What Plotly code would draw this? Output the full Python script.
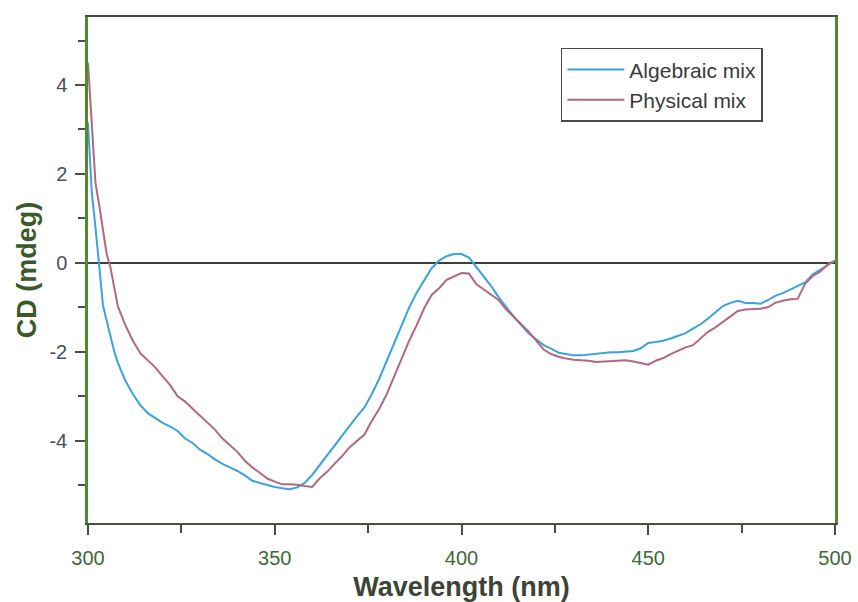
import plotly.graph_objects as go

# Wavelength grid (nm)
wavelength = [300, 301, 302, 303, 304, 305, 306, 307, 308] + list(range(310, 501, 2))

algebraic_mix = [
    3.15, 1.6, 0.8, 0.0, -0.95, -1.3, -1.65, -1.98, -2.25,
    -2.65, -2.95, -3.2, -3.38, -3.5, -3.6, -3.68, -3.78, -3.95, -4.05,
    -4.2, -4.3, -4.42, -4.52, -4.6, -4.68, -4.78, -4.9, -4.95, -5.0,
    -5.04, -5.07, -5.09, -5.05, -4.95, -4.77, -4.55, -4.33, -4.1, -3.88,
    -3.65, -3.45, -3.25, -2.95, -2.6, -2.2, -1.8, -1.4, -1.0, -0.67,
    -0.4, -0.12, 0.05, 0.15, 0.2, 0.2, 0.12, -0.1, -0.3, -0.53,
    -0.78, -1.0, -1.21, -1.4, -1.59, -1.72, -1.85, -1.93, -2.02, -2.05,
    -2.08, -2.08, -2.06, -2.05, -2.03, -2.01, -2.01, -1.99, -1.98, -1.92,
    -1.8, -1.78, -1.75, -1.7, -1.64, -1.58, -1.48, -1.38, -1.25, -1.1,
    -0.97, -0.9, -0.85, -0.9, -0.9, -0.92, -0.84, -0.74, -0.68, -0.6,
    -0.52, -0.44, -0.26, -0.15, -0.06, 0.05,
]

physical_mix = [
    4.5, 3.2, 1.8, 1.3, 0.7, 0.2, -0.1, -0.55, -0.98,
    -1.4, -1.75, -2.03, -2.2, -2.35, -2.55, -2.75, -3.0, -3.12, -3.28,
    -3.43, -3.58, -3.75, -3.95, -4.1, -4.25, -4.45, -4.6, -4.72, -4.85,
    -4.92, -4.98, -4.98, -4.99, -5.02, -5.04, -4.85, -4.7, -4.52, -4.35,
    -4.15, -4.0, -3.86, -3.55, -3.28, -2.95, -2.55, -2.15, -1.75, -1.4,
    -1.02, -0.72, -0.57, -0.38, -0.3, -0.23, -0.24, -0.48, -0.6, -0.72,
    -0.84, -1.05, -1.21, -1.38, -1.55, -1.75, -1.95, -2.05, -2.11, -2.15,
    -2.18, -2.19, -2.2, -2.23, -2.22, -2.21, -2.2, -2.19, -2.22, -2.25,
    -2.29, -2.2, -2.14, -2.05, -1.98, -1.9, -1.85, -1.7, -1.55, -1.45,
    -1.33, -1.22, -1.08, -1.05, -1.04, -1.03, -1.0, -0.9, -0.85, -0.82,
    -0.81, -0.47, -0.3, -0.2, -0.04, 0.05,
]

x_ticks = [300, 350, 400, 450, 500]
y_ticks = [-4, -2, 0, 2, 4]

FONT = "Liberation Sans, Arial, sans-serif"

fig = go.Figure()
fig.add_trace(go.Scatter(x=wavelength, y=algebraic_mix, mode="lines",
                         name="Algebraic mix",
                         line=dict(color="#3aa3dd", width=2)))
fig.add_trace(go.Scatter(x=wavelength, y=physical_mix, mode="lines",
                         name="Physical mix",
                         line=dict(color="#b3687f", width=2)))

fig.update_layout(
    width=858, height=602,
    margin=dict(l=88, r=23, t=17, b=79),
    paper_bgcolor="white", plot_bgcolor="white",
    font=dict(family=FONT, color="#3a3a3a"),
    showlegend=True,
    legend=dict(x=0.633, y=0.939, xanchor="left", yanchor="top",
                bgcolor="white", bordercolor="#4a4a4a", borderwidth=1.5,
                font=dict(size=21, color="#3a3a3a"), itemwidth=57,
                tracegroupgap=0),
)

fig.update_xaxes(
    range=[300, 500], tickvals=x_ticks, ticktext=[str(t) for t in x_ticks],
    showgrid=False, zeroline=False, automargin=False,
    showline=True, linecolor="#4a4f45", linewidth=2, mirror=True,
    ticks="outside", ticklen=10, tickwidth=1.5, tickcolor="#4a4f45",
    minor=dict(dtick=25, tick0=300, ticks="outside", ticklen=8,
               tickwidth=1.5, tickcolor="#4a4f45", showgrid=False),
    tickfont=dict(size=20, color="#3e6a3a", family=FONT),
    ticklabelstandoff=6,
    title=dict(text="<b>Wavelength (nm)</b>", standoff=16,
               font=dict(size=27, color="#3b4436", family=FONT)),
)

fig.update_yaxes(
    range=[-5.85, 5.53], tickvals=y_ticks, ticktext=[str(t) for t in y_ticks],
    showgrid=False, automargin=False,
    zeroline=True, zerolinecolor="#3c3f3a", zerolinewidth=1.5,
    showline=True, linecolor="#4f8a2c", linewidth=2.5, mirror=True,
    ticks="outside", ticklen=10, tickwidth=1.5, tickcolor="#4a4f45",
    minor=dict(dtick=1, tick0=1, ticks="outside", ticklen=7,
               tickwidth=1.5, tickcolor="#4a4f45", showgrid=False),
    tickfont=dict(size=20, color="#4b4f5c", family=FONT),
    ticklabelstandoff=4,
    title=dict(text="<b>CD (mdeg)</b>", standoff=6,
               font=dict(size=27, color="#3a5a2a", family=FONT)),
)

fig.write_html("out.html")
